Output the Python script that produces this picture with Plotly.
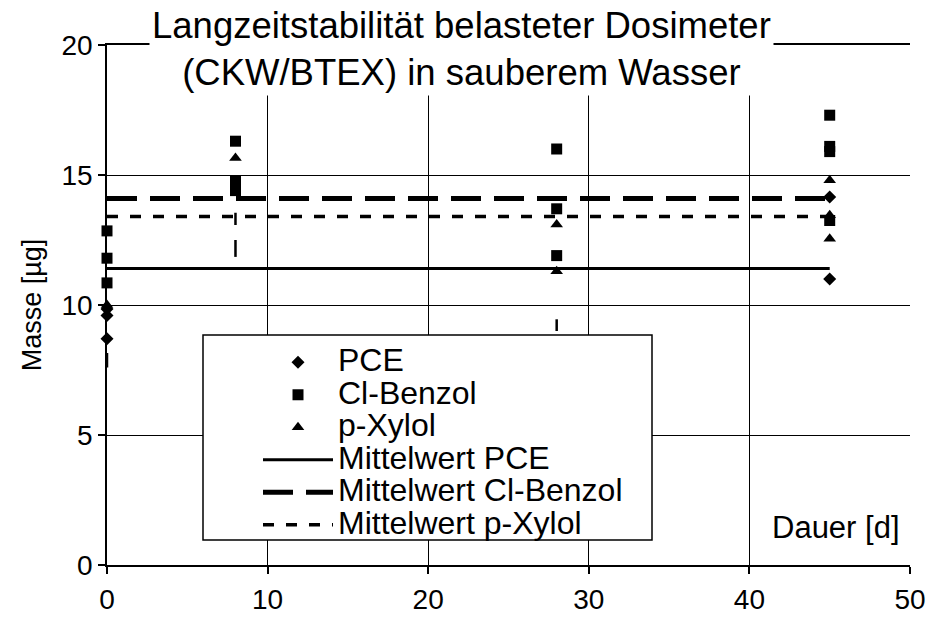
import plotly.graph_objects as go

# Messwerte (Masse in µg) je Dauer in Tagen
pce_x = [0, 0, 0, 45, 45]
pce_y = [9.85, 9.6, 8.7, 14.15, 11.0]

clb_x = [0, 0, 0, 8, 8, 8, 28, 28, 28, 45, 45, 45, 45]
clb_y = [12.85, 11.8, 10.85, 16.3, 14.75, 14.4, 16.0, 13.7, 11.9, 17.3, 16.1, 15.9, 13.25]

pxy_x = [0, 8, 28, 28, 45, 45, 45]
pxy_y = [10.0, 15.65, 13.1, 11.3, 14.8, 13.45, 12.55]

# Mittelwerte über die Versuchsdauer
mittel_x = [0, 45]
mittel_pce = 11.4
mittel_clb = 14.1
mittel_pxy = 13.4

# Streubereiche (gestrichelte Fehlerbalken)
streu_x = [0, 8, 28]
streu_low = [7.6, 11.85, 9.0]
streu_high = [8.15, 13.55, 9.45]

x_ticks = [0, 10, 20, 30, 40, 50]
y_ticks = [0, 5, 10, 15, 20]

FONT = "Liberation Sans, Arial, sans-serif"
LEG_PX = 32


def leg(name):
    return f'<span style="font-size:{LEG_PX}px">{name}</span>'


fig = go.Figure()

for xv, lo, hi in zip(streu_x, streu_low, streu_high):
    fig.add_trace(go.Scatter(
        x=[xv, xv], y=[lo, hi], mode="lines", showlegend=False, hoverinfo="skip",
        line=dict(color="black", width=2.5, dash="17px,15px"), cliponaxis=False))

fig.add_trace(go.Scatter(x=pce_x, y=pce_y, mode="markers", name=leg("PCE"),
                         marker=dict(symbol="diamond", size=10, color="black"), cliponaxis=False))
fig.add_trace(go.Scatter(x=clb_x, y=clb_y, mode="markers", name=leg("Cl-Benzol"),
                         marker=dict(symbol="square", size=11, color="black"), cliponaxis=False))
fig.add_trace(go.Scatter(x=pxy_x, y=pxy_y, mode="markers", name=leg("p-Xylol"),
                         marker=dict(symbol="triangle-up", size=11, color="black"), cliponaxis=False))

fig.add_trace(go.Scatter(x=mittel_x, y=[mittel_pce] * 2, mode="lines", name=leg("Mittelwert PCE"),
                         line=dict(color="black", width=3)))
fig.add_trace(go.Scatter(x=mittel_x, y=[mittel_clb] * 2, mode="lines", name=leg("Mittelwert Cl-Benzol"),
                         line=dict(color="black", width=5, dash="30px,13px")))
fig.add_trace(go.Scatter(x=mittel_x, y=[mittel_pxy] * 2, mode="lines", name=leg("Mittelwert p-Xylol"),
                         line=dict(color="black", width=3.5, dash="11px,12px")))

L, R, T, B = 107, 24, 45, 56
W, H = 934, 621
PW, PH = W - L - R, H - T - B


def px_x(p):
    return (p - L) / PW


def px_y(p):
    return (H - B - p) / PH


fig.update_layout(
    width=W, height=H,
    margin=dict(l=L, r=R, t=T, b=B, autoexpand=False),
    paper_bgcolor="white", plot_bgcolor="white",
    font=dict(family=FONT, color="black", size=28),
    xaxis=dict(range=[0, 50], tickvals=x_ticks, showgrid=True, gridcolor="black", gridwidth=1.3,
               showline=True, linecolor="black", linewidth=1.5, mirror=True,
               ticks="outside", ticklen=7, tickwidth=1.5, tickcolor="black", automargin=False,
               zeroline=False, tickfont=dict(size=28), ticklabelstandoff=2),
    yaxis=dict(range=[0, 20], tickvals=y_ticks, showgrid=True, gridcolor="black", gridwidth=1.3,
               showline=True, linecolor="black", linewidth=1.5, automargin=False,
               ticks="outside", ticklen=7, tickwidth=1.5, tickcolor="black",
               zeroline=False, tickfont=dict(size=28),
               title=dict(text="Masse [µg]", font=dict(size=27), standoff=12)),
    showlegend=True,
    legend=dict(x=px_x(258), y=px_y(341), xanchor="left", yanchor="top",
                bgcolor="rgba(0,0,0,0)", borderwidth=0, itemwidth=70,
                font=dict(size=22.7, family=FONT), tracegroupgap=0),
    shapes=[dict(type="rect", xref="paper", yref="paper",
                 x0=px_x(203), x1=px_x(652), y0=px_y(540), y1=px_y(335),
                 fillcolor="white", line=dict(color="black", width=1.5), layer="above")],
    annotations=[
        dict(text="Langzeitstabilität belasteter Dosimeter<br>(CKW/BTEX) in sauberem Wasser",
             xref="paper", yref="paper", x=px_x(461), y=px_y(49), xanchor="center", yanchor="middle",
             showarrow=False, bgcolor="white", font=dict(size=36.5), borderpad=2),
        dict(text="Dauer [d]", xref="paper", yref="paper", x=px_x(836), y=px_y(527),
             xanchor="center", yanchor="middle", showarrow=False, font=dict(size=31)),
    ],
)

fig.write_html("out.html")
